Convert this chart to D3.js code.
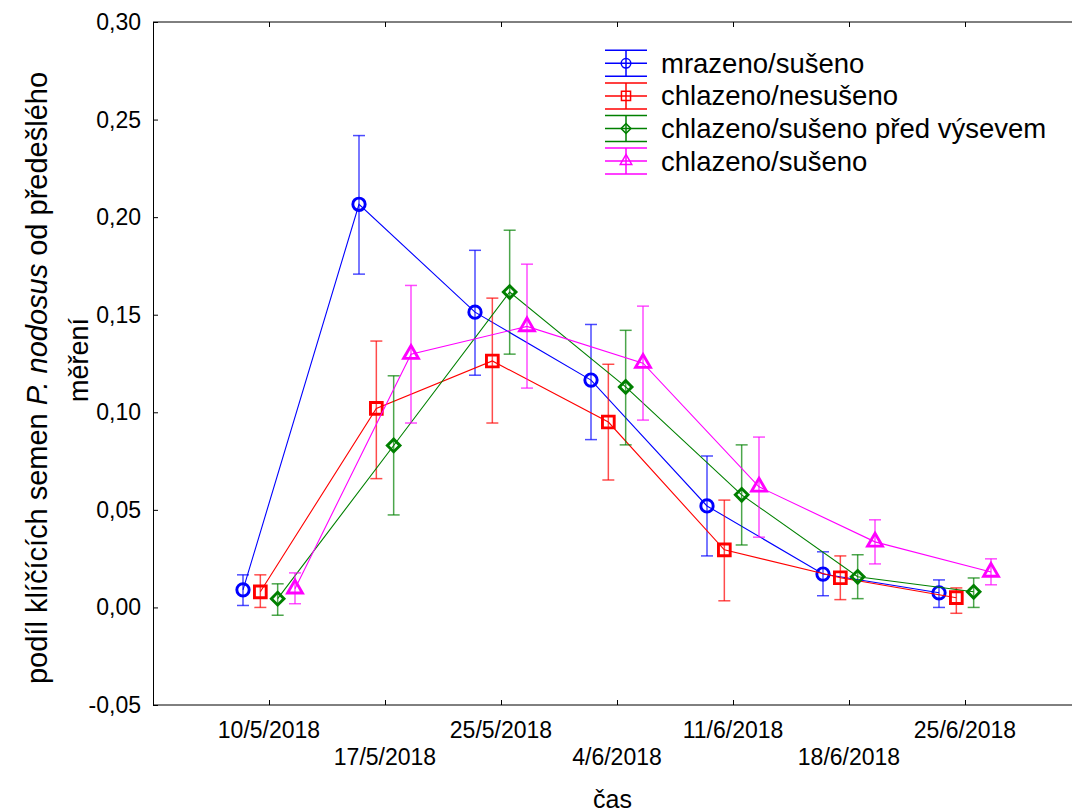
<!DOCTYPE html>
<html>
<head>
<meta charset="utf-8">
<script src="https://cdn.jsdelivr.net/npm/d3@7"></script>
<style>
  body { margin: 0; background: #fff; }
  text { font-family: "Liberation Sans", Arial, sans-serif; fill: #000; }
</style>
</head>
<body>
<div id="chart"></div>
<script>
// data
var dates = ['10/5/2018', '17/5/2018', '25/5/2018', '4/6/2018', '11/6/2018', '18/6/2018', '25/6/2018'];
var seriesNames = ['mrazeno/sušeno', 'chlazeno/nesušeno', 'chlazeno/sušeno před výsevem', 'chlazeno/sušeno'];
var seriesColors = ['#0000ff', '#ff0000', '#008000', '#ff00ff'];
var seriesMarkers = ['circle', 'square', 'diamond', 'triangle'];

var mrazenoSuseno    = [0.009, 0.2066, 0.1513, 0.1165, 0.052, 0.0171, 0.0075];
var mrazenoSusenoLo  = [0.001, 0.1708, 0.119, 0.086, 0.0264, 0.006, 0.000];
var mrazenoSusenoHi  = [0.0167, 0.2418, 0.183, 0.145, 0.0776, 0.0285, 0.0141];

var chlazenoNesuseno   = [0.008, 0.102, 0.1263, 0.095, 0.0295, 0.0152, 0.005];
var chlazenoNesusenoLo = [0.0, 0.066, 0.0945, 0.0653, 0.0034, 0.004, -0.003];
var chlazenoNesusenoHi = [0.0167, 0.1365, 0.1585, 0.1246, 0.055, 0.0264, 0.010];

var chlazenoPredVysevem   = [0.0045, 0.083, 0.1616, 0.113, 0.0577, 0.0157, 0.008];
var chlazenoPredVysevemLo = [-0.004, 0.0474, 0.1298, 0.0833, 0.032, 0.0045, 0.0];
var chlazenoPredVysevemHi = [0.0121, 0.1187, 0.1933, 0.142, 0.0833, 0.027, 0.0151];

var chlazenoSuseno   = [0.0096, 0.1298, 0.144, 0.1252, 0.0618, 0.0336, 0.0182];
var chlazenoSusenoLo = [0.0019, 0.0945, 0.1124, 0.096, 0.036, 0.0223, 0.0116];
var chlazenoSusenoHi = [0.0177, 0.165, 0.1759, 0.1544, 0.0873, 0.0449, 0.0249];

var yTicks = [-0.05, 0, 0.05, 0.10, 0.15, 0.20, 0.25, 0.30];

var series = [
    {mean: mrazenoSuseno, lo: mrazenoSusenoLo, hi: mrazenoSusenoHi},
    {mean: chlazenoNesuseno, lo: chlazenoNesusenoLo, hi: chlazenoNesusenoHi},
    {mean: chlazenoPredVysevem, lo: chlazenoPredVysevemLo, hi: chlazenoPredVysevemHi},
    {mean: chlazenoSuseno, lo: chlazenoSusenoLo, hi: chlazenoSusenoHi}
].map(function(s, i) {
    s.name = seriesNames[i];
    s.color = seriesColors[i];
    s.marker = seriesMarkers[i];
    s.points = dates.map(function(d, j) {
        return {date: d, mean: s.mean[j], lo: s.lo[j], hi: s.hi[j]};
    });
    return s;
});

var W = 1072, H = 812;
var plotLeft = 153, plotTop = 22, plotBottom = 705;

var svg = d3.select('#chart').append('svg')
    .attr('width', W)
    .attr('height', H);

var x = d3.scalePoint()
    .domain(dates)
    .range([plotLeft, plotLeft + 116 * 8])
    .padding(1);

var offset = d3.scalePoint()
    .domain(seriesNames)
    .range([-26, 26]);

var y = d3.scaleLinear()
    .domain([-0.05, 0.30])
    .range([plotBottom, plotTop]);

var fmt = function(v) {
    return d3.format('.2f')(v).replace('.', ',').replace('\u2212', '-');
};

// top frame line
svg.append('line')
    .attr('x1', plotLeft).attr('x2', W)
    .attr('y1', plotTop).attr('y2', plotTop)
    .attr('stroke', '#000').attr('stroke-width', 1);

// axes
var xAxis = svg.append('g')
    .attr('transform', 'translate(0,' + plotBottom + ')')
    .call(d3.axisBottom(x).tickSizeInner(-5).tickSizeOuter(0).tickFormat(''));
xAxis.select('.domain').attr('d', 'M' + plotLeft + ',0H' + W);

svg.append('g')
    .attr('transform', 'translate(0,' + plotTop + ')')
    .call(d3.axisTop(x).tickSizeInner(-5).tickSizeOuter(0).tickFormat(''))
    .select('.domain').remove();

svg.append('g')
    .attr('transform', 'translate(' + plotLeft + ',0)')
    .call(d3.axisLeft(y).tickValues(yTicks).tickSizeInner(-5).tickSizeOuter(0).tickFormat(''));

svg.selectAll('.tick line').attr('stroke', '#000');

// tick labels
svg.append('g').selectAll('text')
    .data(yTicks)
    .join('text')
    .attr('x', plotLeft - 12)
    .attr('y', function(d) { return y(d) + 8; })
    .attr('text-anchor', 'end')
    .style('font-size', '23px')
    .text(fmt);

svg.append('g').selectAll('text')
    .data(dates)
    .join('text')
    .attr('x', function(d) { return x(d); })
    .attr('y', function(d, i) { return i % 2 ? 765 : 738; })
    .attr('text-anchor', 'middle')
    .style('font-size', '23px')
    .text(function(d) { return d; });

// axis titles
svg.append('text')
    .attr('x', (plotLeft + W) / 2)
    .attr('y', 808)
    .attr('text-anchor', 'middle')
    .style('font-size', '25px')
    .text('čas');

var yTitle = svg.append('text')
    .attr('transform', 'translate(37,378) rotate(-90)')
    .attr('text-anchor', 'middle')
    .attr('dy', '0.35em')
    .style('font-size', '29px');
yTitle.append('tspan').text('podíl klíčících semen ');
yTitle.append('tspan').style('font-style', 'italic').text('P. nodosus');
yTitle.append('tspan').text(' od předešlého');
svg.append('text')
    .attr('transform', 'translate(79,360) rotate(-90)')
    .attr('text-anchor', 'middle')
    .attr('dy', '0.35em')
    .style('font-size', '27px')
    .text('měření');

var symbolOf = function(m, big) {
    var k = big ? 1 : 0.6;
    if (m === 'circle') return d3.symbol(d3.symbolCircle, 120 * k)();
    if (m === 'square') return d3.symbol(d3.symbolSquare, 138 * k)();
    if (m === 'diamond') return d3.symbol(d3.symbolSquare, 80 * k)();
    return d3.symbol(d3.symbolTriangle, 95 * k)();
};

var line = d3.line()
    .x(function(d) { return d.px; })
    .y(function(d) { return y(d.mean); });

var plot = svg.append('g');

series.forEach(function(s) {
    var dx = offset(s.name);
    s.points.forEach(function(p) { p.px = x(p.date) + dx; });

    var g = plot.append('g');

    g.append('path')
        .datum(s.points)
        .attr('fill', 'none')
        .attr('stroke', s.color)
        .attr('stroke-width', 1.1)
        .attr('d', line);

    var eb = g.append('g')
        .attr('stroke', s.color)
        .attr('stroke-opacity', 0.7)
        .attr('stroke-width', 1.5);
    eb.selectAll('line.v')
        .data(s.points)
        .join('line')
        .attr('class', 'v')
        .attr('x1', function(d) { return d.px; })
        .attr('x2', function(d) { return d.px; })
        .attr('y1', function(d) { return y(d.lo); })
        .attr('y2', function(d) { return y(d.hi); });
    eb.selectAll('line.lo')
        .data(s.points)
        .join('line')
        .attr('class', 'lo')
        .attr('x1', function(d) { return d.px - 6; })
        .attr('x2', function(d) { return d.px + 6; })
        .attr('y1', function(d) { return y(d.lo); })
        .attr('y2', function(d) { return y(d.lo); });
    eb.selectAll('line.hi')
        .data(s.points)
        .join('line')
        .attr('class', 'hi')
        .attr('x1', function(d) { return d.px - 6; })
        .attr('x2', function(d) { return d.px + 6; })
        .attr('y1', function(d) { return y(d.hi); })
        .attr('y2', function(d) { return y(d.hi); });

    g.selectAll('path.mk')
        .data(s.points)
        .join('path')
        .attr('class', 'mk')
        .attr('d', symbolOf(s.marker, true))
        .attr('transform', function(d) {
            var t = 'translate(' + d.px + ',' + y(d.mean) + ')';
            return s.marker === 'diamond' ? t + ' rotate(45)' : t;
        })
        .attr('fill', 'none')
        .attr('stroke', s.color)
        .attr('stroke-width', 2.9);
});

// legend
var legend = svg.append('g');
series.forEach(function(s, i) {
    var cy = 63.3 + i * 32.6;
    var lg = legend.append('g').attr('transform', 'translate(0,' + cy + ')');
    lg.selectAll('line.h')
        .data([-13, 0, 13])
        .join('line')
        .attr('x1', 605).attr('x2', 647)
        .attr('y1', function(d) { return d; })
        .attr('y2', function(d) { return d; })
        .attr('stroke', s.color)
        .attr('stroke-width', 1.5);
    lg.append('line')
        .attr('x1', 626).attr('x2', 626)
        .attr('y1', -13).attr('y2', 13)
        .attr('stroke', s.color)
        .attr('stroke-width', 1.5);
    lg.append('path')
        .attr('d', symbolOf(s.marker, false))
        .attr('transform', 'translate(626,0)' + (s.marker === 'diamond' ? ' rotate(45)' : ''))
        .attr('fill', 'none')
        .attr('stroke', s.color)
        .attr('stroke-width', 1.5);
    lg.append('text')
        .attr('x', 661)
        .attr('y', 9.5)
        .style('font-size', '27.5px')
        .text(s.name);
});
</script>
</body>
</html>
